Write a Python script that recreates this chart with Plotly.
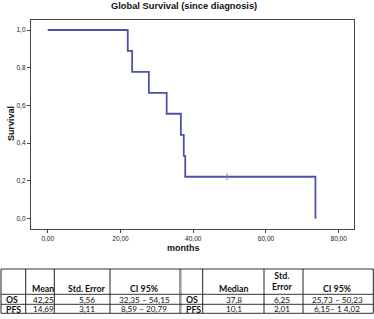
import plotly.graph_objects as go

# ---- Kaplan-Meier data ----
times = [0, 22.0, 23.2, 27.8, 32.7, 36.6, 37.4, 37.8, 73.6]
survival = [1.0, 0.889, 0.778, 0.667, 0.556, 0.444, 0.333, 0.222, 0.0]
censor_times = [49.3]
censor_surv = [0.222]

x_ticks = [0, 20, 40, 60, 80]
x_tick_labels = ["0,00", "20,00", "40,00", "60,00", "80,00"]
y_ticks = [0.0, 0.2, 0.4, 0.6, 0.8, 1.0]
y_tick_labels = ["0,0", "0,2", "0,4", "0,6", "0,8", "1,0"]

# ---- table data ----
left_header = ["", "Mean", "Std. Error", "CI 95%"]
right_header = ["", "Median", "Std.<br>Error", "CI 95%"]
row_labels = ["OS", "PFS"]
mean_vals = ["42,25", "14,69"]
mean_se = ["5,56", "3,11"]
mean_ci = ["32,35 – 54,15", "8,59 – 20,79"]
median_vals = ["37,8", "10,1"]
median_se = ["6,25", "2,01"]
median_ci = ["25,73 – 50,23", "6,15– 1 4,02"]

W, H = 374, 319
L, R, T, B = 31, 20, 20, 90
PW, PH = W - L - R, H - T - B


def px(x):
    return (x - L) / PW


def py(y):
    return (H - B - y) / PH


line_color = "#4c52a6"

fig = go.Figure()
fig.add_trace(go.Scatter(x=times, y=survival, mode="lines", line=dict(shape="hv", color=line_color, width=1.8),
                         hoverinfo="skip", showlegend=False))
fig.add_trace(go.Scatter(x=censor_times, y=censor_surv, mode="markers",
                         marker=dict(symbol="line-ns", size=5, line=dict(color="#7a7fb8", width=1)),
                         showlegend=False, hoverinfo="skip"))

ann = []
ann.append(dict(text="<b>Global Survival (since diagnosis)</b>", x=px(184), y=py(6.5), xref="paper", yref="paper",
                showarrow=False, font=dict(family="Liberation Sans", size=9.3, color="#111"), xanchor="center", yanchor="middle"))
ann.append(dict(text="<b>months</b>", x=px(183.5), y=py(247.5), xref="paper", yref="paper",
                showarrow=False, font=dict(family="Liberation Sans", size=9, color="#111"), xanchor="center", yanchor="middle"))
ann.append(dict(text="<b>Survival</b>", x=px(11), y=py(124), xref="paper", yref="paper", textangle=-90,
                showarrow=False, font=dict(family="Liberation Sans", size=9, color="#111"), xanchor="center", yanchor="middle"))

# table layout (pixel positions)
col_lines = [1, 25.7, 54.3, 110, 202.7, 264, 303, 373.3]
row_lines = [269, 294.3, 304.3, 313.3]
shapes = []
for cx in col_lines:
    shapes.append(dict(type="line", xref="paper", yref="paper", x0=px(cx), x1=px(cx), y0=py(269), y1=py(313.3),
                       line=dict(color="#222", width=1)))
shapes.append(dict(type="line", xref="paper", yref="paper", x0=px(180.3), x1=px(180.3), y0=py(269), y1=py(313.3),
                   line=dict(color="#999", width=2.5)))
for ry in row_lines:
    shapes.append(dict(type="line", xref="paper", yref="paper", x0=px(1), x1=px(373.3), y0=py(ry), y1=py(ry),
                       line=dict(color="#333", width=1)))

tfont = dict(family="Lato", size=8.2, color="#111")
bfont = dict(family="Lato", size=8.8, color="#111")
hdr_y = 288.5
row_y = [299.5, 309]
left_cols = [43, 86.5, 144]
right_cols = [233.5, 281.5, 337]

for i, h in enumerate(left_header[1:]):
    ann.append(dict(text="<b>%s</b>" % h, x=px(left_cols[i]), y=py(hdr_y), xref="paper", yref="paper",
                    showarrow=False, font=bfont, xanchor="center", yanchor="middle"))
for i, h in enumerate(right_header[1:]):
    yy = hdr_y if "<br>" not in h else (274 + 287.5) / 2
    ann.append(dict(text="<b>%s</b>" % h, x=px(right_cols[i]), y=py(yy), xref="paper", yref="paper",
                    showarrow=False, font=bfont, xanchor="center", yanchor="middle"))

for r, lab in enumerate(row_labels):
    for lx in (4, 183.5):
        ann.append(dict(text="<b>%s</b>" % lab, x=px(lx), y=py(row_y[r]), xref="paper", yref="paper",
                        showarrow=False, font=bfont, xanchor="left", yanchor="middle"))
    for c, vals in enumerate([mean_vals, mean_se, mean_ci]):
        ann.append(dict(text=vals[r], x=px(left_cols[c]), y=py(row_y[r]), xref="paper", yref="paper",
                        showarrow=False, font=tfont, xanchor="center", yanchor="middle"))
    for c, vals in enumerate([median_vals, median_se, median_ci]):
        ann.append(dict(text=vals[r], x=px(right_cols[c]), y=py(row_y[r]), xref="paper", yref="paper",
                        showarrow=False, font=tfont, xanchor="center", yanchor="middle"))

fig.update_layout(
    width=W, height=H, margin=dict(l=L, r=R, t=T, b=B),
    paper_bgcolor="white", plot_bgcolor="white",
    annotations=ann, shapes=shapes,
    xaxis=dict(range=[-4.6, 84.2], tickvals=x_ticks, ticktext=x_tick_labels, showgrid=False, zeroline=False,
               showline=True, mirror=True, linecolor="#444", linewidth=1.3, ticks="outside", ticklen=3,
               tickcolor="#444", tickfont=dict(family="Liberation Sans", size=6.5, color="#222")),
    yaxis=dict(range=[-0.055, 1.053], tickvals=y_ticks, ticktext=y_tick_labels, showgrid=False, zeroline=False,
               showline=True, mirror=True, linecolor="#444", linewidth=1.3, ticks="outside", ticklen=3,
               tickcolor="#444", tickfont=dict(family="Liberation Sans", size=6.5, color="#222")),
)

fig.write_html("out.html", config={"displayModeBar": False},
               post_script="document.body.style.margin='0px';document.body.style.overflow='hidden';")
